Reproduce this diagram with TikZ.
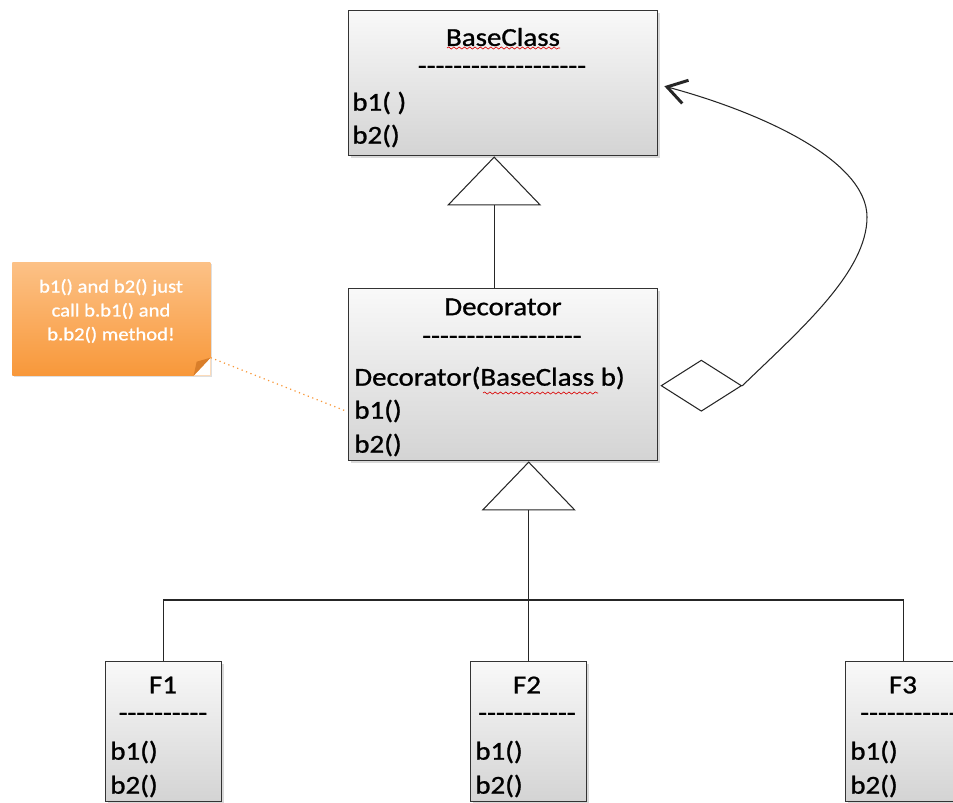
\documentclass[tikz,border=0pt]{standalone}
\usepackage{fontspec}
\setmainfont[FakeStretch=1.12, FakeBold=1, Ligatures=TeXOff]{Carlito}
\usetikzlibrary{arrows.meta,calc,shadows,decorations.pathmorphing}

\newcommand\membersize{\fontsize{14.7pt}{17pt}\selectfont}
\newcommand\notesize{\fontsize{10.5pt}{13.6pt}\selectfont}

\definecolor{notetop}{HTML}{FCC186}
\definecolor{notebottom}{HTML}{F8983A}
\definecolor{notefold}{HTML}{D97E2A}

\tikzset{
  classbox/.style={draw=black!80, line width=0.8pt, top color=gray!5, bottom color=gray!34,
    anchor=north west, inner sep=0pt,
    drop shadow={shadow xshift=1.2pt, shadow yshift=-1.2pt, opacity=0.3}},
  heading/.style={inner sep=0pt, font=\membersize},
  member/.style={anchor=west, inner sep=0pt, font=\membersize},
  inherit/.style={draw=black!85, line width=0.6pt, -{Triangle[open, length=0.98cm, width=1.88cm]}},
  wire/.style={draw=black!85, line width=0.6pt},
  aggregate/.style={draw=black!85, line width=0.6pt,
    {Diamond[open, length=1.64cm, width=1.04cm]}-{Straight Barb[length=0.38cm, width=0.48cm, line width=1.7pt]}},
  spell/.style={red!85!black, line width=0.35pt, decorate,
    decoration={snake, segment length=3pt, amplitude=0.6pt}},
  notebox/.style={anchor=north west, inner sep=0pt, top color=notetop, bottom color=notebottom,
    minimum width=3.96cm, minimum height=2.26cm,
    drop shadow={shadow xshift=1pt, shadow yshift=-1pt, opacity=0.25}},
  notelink/.style={notebottom, line width=0.7pt, dotted}
}

\begin{document}
\begin{tikzpicture}[x=0.02cm, y=-0.02cm]
    \useasboundingbox (0,0) rectangle (953,802);

    % Base class
    \node[classbox, minimum width=6.18cm, minimum height=2.9cm] (BaseClass) at (348,10) {};
    \node[heading] (bcTitle) at (503,37) {BaseClass};
    \node[heading] (bcRule) at (502,70) {-------------------};
    \node[member] (bcB1) at (352,103) {b1( )};
    \node[member] (bcB2) at (352,136) {b2()};
    \draw[spell] (447,48) -- (560,48);

    % Decorator
    \node[classbox, minimum width=6.18cm, minimum height=3.44cm] (Decorator) at (348,288) {};
    \node[heading] (decTitle) at (503,307) {Decorator};
    \node[heading] (decRule) at (502,340) {------------------};
    \node[member] (decCtor) at (354,378) {Decorator(BaseClass b)};
    \node[member] (decB1) at (354,411) {b1()};
    \node[member] (decB2) at (354,445) {b2()};
    \draw[spell] (483,393) -- (598,393);

    % Concrete decorators
    \node[classbox, minimum width=2.32cm, minimum height=2.8cm] (F1) at (105,661) {};
    \node[heading] (f1Title) at (163,685) {F1};
    \node[heading] (f1Rule) at (163,717) {----------};
    \node[member] (f1B1) at (110,752) {b1()};
    \node[member] (f1B2) at (110,786) {b2()};

    \node[classbox, minimum width=2.32cm, minimum height=2.8cm] (F2) at (470,661) {};
    \node[heading] (f2Title) at (527,685) {F2};
    \node[heading] (f2Rule) at (527,717) {-----------};
    \node[member] (f2B1) at (475,752) {b1()};
    \node[member] (f2B2) at (475,786) {b2()};

    \node[classbox, minimum width=2.32cm, minimum height=2.8cm] (F3) at (845,661) {};
    \node[heading] (f3Title) at (903,685) {F3};
    \node[heading] (f3Rule) at (909,717) {-----------};
    \node[member] (f3B1) at (850,752) {b1()};
    \node[member] (f3B2) at (850,786) {b2()};

    % Inheritance
    \draw[inherit] ($(Decorator.north)+(-9,0)$) -- ($(BaseClass.south)+(-9,0)$);
    \coordinate (hub) at (F2.north |- 0,600);
    \draw[wire] (F1.north) |- (hub) -| (F3.north);
    \draw[inherit] (F2.north) -- (F2.north |- Decorator.south);

    % Aggregation back to the base class
    \coordinate (aggrStart) at ($(Decorator.east)+(2,11)$);
    \draw[aggregate] (aggrStart) -- ++(82,0)
        .. controls (800,330) and (867,272) .. (867,217)
        .. controls (867,160) and (760,112) .. ($(BaseClass.east)+(6,3)$);

    % Note
    \node[notebox] (note) at (12,262) {};
    \fill[white] (note.south east) -- ++(0,-18) -- ++(-17,18) -- cycle;
    \fill[notefold] ($(note.south east)+(0,-18)$) -- ++(-17,18) -- ++(3,-14) -- cycle;
    \node[white, font=\notesize, align=center] (noteText) at (111,311)
        {b1() and b2() just\\call b.b1() and\\b.b2() method!};
    \draw[notelink] ($(note.south east)+(0,-18)$) -- ($(Decorator.west)+(-3,36)$);
\end{tikzpicture}
\end{document}
